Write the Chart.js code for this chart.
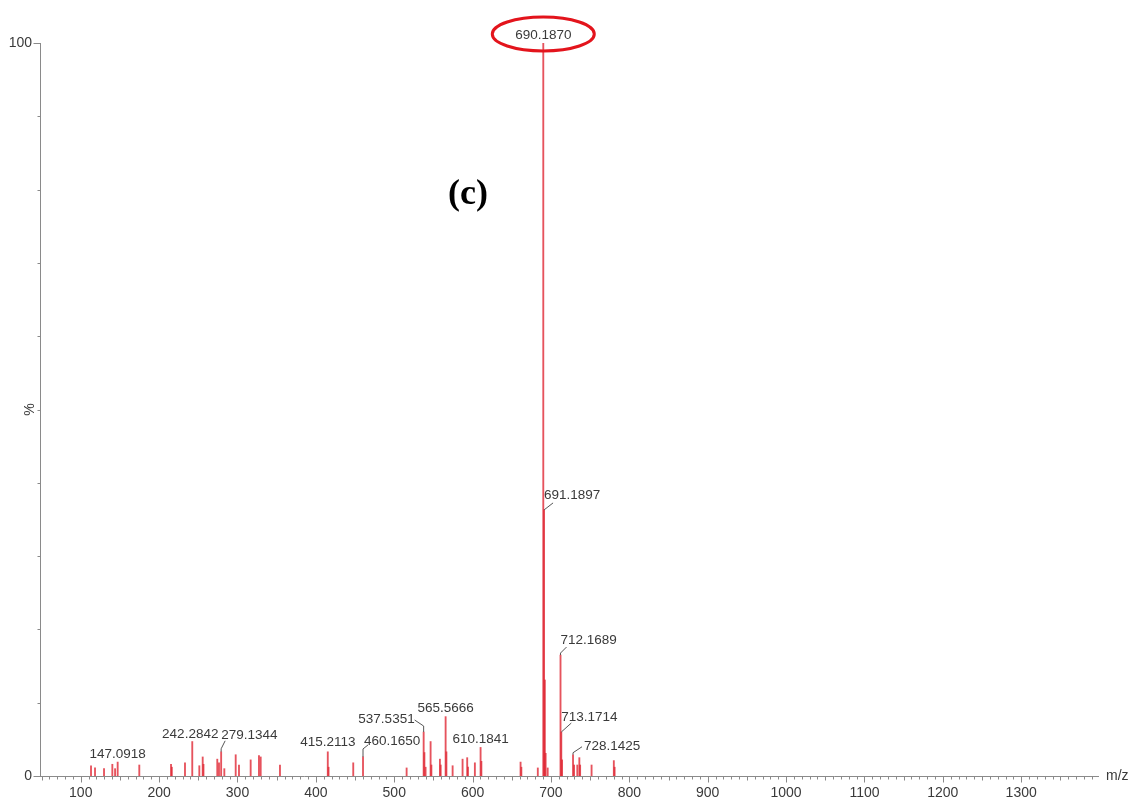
<!DOCTYPE html>
<html>
<head>
<meta charset="utf-8">
<script src="https://cdn.jsdelivr.net/npm/chart.js@4/dist/chart.umd.min.js"></script>
<style>
  html, body { margin: 0; padding: 0; background: #fff; }
  #wrap { width: 1132px; height: 801px; position: relative; }
</style>
</head>
<body>
<div id="wrap"><canvas id="espectro"></canvas></div>
<script>
// Dados do espectro (m/z, intensidade relativa %)
const mzValues = [
  113.1, 118.2, 129.7, 140.3, 143.8, 147.0918, 174.7, 215.2, 216.2, 233.0,
  242.2842, 251.3, 255.6, 256.6, 274.2, 276.4, 279.1344, 283.2, 297.7, 301.9,
  316.8, 327.4, 329.6, 354.2, 415.2113, 416.2, 447.7, 460.1650, 515.8, 537.5351,
  538.5, 540.0, 546.4, 547.4, 558.3, 559.3, 565.5666, 566.57, 574.5, 587.2,
  593.1, 594.1, 602.9, 610.1841, 611.19, 661.2, 662.2, 683.2, 690.1870, 691.1897,
  692.19, 693.19, 695.8, 712.1689, 713.1714, 714.17, 728.1425, 729.5, 733.6, 736.2,
  737.2, 751.8, 780.2, 781.2
];
const intensities = [
  1.4, 1.1, 1.0, 1.6, 1.0, 1.9, 1.5, 1.6, 1.2, 1.8,
  4.7, 1.4, 2.6, 1.6, 2.3, 1.8, 3.3, 1.0, 2.9, 1.5,
  2.2, 2.8, 2.6, 1.5, 3.3, 1.2, 1.8, 2.6, 1.1, 6.0,
  3.2, 1.2, 4.7, 1.5, 2.3, 1.5, 8.1, 3.3, 1.4, 2.3,
  2.5, 1.2, 1.8, 3.9, 2.0, 1.9, 1.2, 1.1, 100, 36.3,
  13.1, 3.1, 1.1, 16.5, 6.0, 2.2, 2.9, 1.5, 1.5, 2.5,
  1.5, 1.5, 2.1, 1.2
];
const peakLabels = [690.1870, 691.1897, 712.1689, 713.1714, 728.1425, 610.1841,
  565.5666, 537.5351, 460.1650, 415.2113, 279.1344, 242.2842, 147.0918];
const xTicks = [100, 200, 300, 400, 500, 600, 700, 800, 900, 1000, 1100, 1200, 1300];
const yTicks = [0, 100];

// posição dos rótulos relativa ao topo do pico (só estilo)
const placement = {
  '690.1870': { dx: 0, dy: -8, align: 'center', circle: true },
  '691.1897': { dx: 0, dy: -15, align: 'left', leader: [[0, 0], [9, -7]] },
  '712.1689': { dx: 0, dy: -15, align: 'left', leader: [[0, 0], [0, -2], [6, -8]] },
  '713.1714': { dx: 0, dy: -15, align: 'left', leader: [[0, 0], [10, -9]] },
  '728.1425': { dx: 11, dy: -8, align: 'left', leader: [[0, 0], [0, -2], [9, -8]] },
  '610.1841': { dx: 0, dy: -8, align: 'center' },
  '565.5666': { dx: 0, dy: -8, align: 'center' },
  '537.5351': { dx: -9, dy: -13, align: 'right', leader: [[0, 0], [0, -6], [-9, -12]] },
  '460.1650': { dx: 1, dy: -16, align: 'left', leader: [[0, 0], [0, -8], [5, -12]] },
  '415.2113': { dx: 0, dy: -10, align: 'center' },
  '279.1344': { dx: 0, dy: -17, align: 'left', leader: [[0, 0], [0, -3], [4, -11]] },
  '242.2842': { dx: -2, dy: -7, align: 'center' },
  '147.0918': { dx: 0, dy: -8, align: 'center' }
};

const fonteTexto = '"Liberation Sans", Arial, sans-serif';

// Rótulos dos picos, marcas dos eixos e textos extra
const pluginEspectro = {
  id: 'espectro',
  afterDraw(chart) {
    const { ctx, scales: { x, y }, chartArea } = chart;
    ctx.save();

    // marcas do eixo x
    ctx.strokeStyle = '#8a8a8a';
    ctx.lineWidth = 1;
    const y0 = Math.round(chartArea.bottom) + 0.5;
    for (let v = 50; v <= 1390; v += 10) {
      const px = Math.round(x.getPixelForValue(v)) + 0.5;
      const len = v % 100 === 0 ? 6 : (v % 50 === 0 ? 4 : 3);
      ctx.beginPath();
      ctx.moveTo(px, y0);
      ctx.lineTo(px, y0 + len);
      ctx.stroke();
    }
    // marcas do eixo y
    const x0 = Math.round(chartArea.left) + 0.5;
    for (let v = 0; v <= 100; v += 10) {
      const py = Math.round(y.getPixelForValue(v)) + 0.5;
      const len = (v === 0 || v === 100) ? 7 : 3;
      ctx.beginPath();
      ctx.moveTo(x0, py);
      ctx.lineTo(x0 - len, py);
      ctx.stroke();
    }

    // rótulos dos picos
    ctx.font = '13.5px ' + fonteTexto;
    ctx.textBaseline = 'middle';
    peakLabels.forEach(m => {
      const i = mzValues.indexOf(m);
      const px = x.getPixelForValue(m);
      const py = y.getPixelForValue(intensities[i]);
      const p = placement[m.toFixed(4)];
      if (p.leader) {
        ctx.strokeStyle = '#555';
        ctx.lineWidth = 1;
        ctx.beginPath();
        p.leader.forEach((pt, k) => {
          if (k === 0) ctx.moveTo(px + pt[0], py + pt[1]);
          else ctx.lineTo(px + pt[0], py + pt[1]);
        });
        ctx.stroke();
      }
      ctx.fillStyle = '#3a3a3a';
      ctx.textAlign = p.align;
      ctx.fillText(m.toFixed(4), px + p.dx, py + p.dy);
      if (p.circle) {
        ctx.strokeStyle = '#e3141c';
        ctx.lineWidth = 3;
        ctx.beginPath();
        ctx.ellipse(px, py + p.dy - 1, 51, 17, 0, 0, Math.PI * 2);
        ctx.stroke();
      }
    });

    // títulos dos eixos
    ctx.fillStyle = '#3a3a3a';
    ctx.font = '14px ' + fonteTexto;
    ctx.textAlign = 'left';
    ctx.fillText('m/z', chartArea.right + 8, chartArea.bottom);
    ctx.save();
    ctx.translate(30, y.getPixelForValue(50));
    ctx.rotate(-Math.PI / 2);
    ctx.textAlign = 'center';
    ctx.fillText('%', 0, 0);
    ctx.restore();

    // letra do painel
    ctx.fillStyle = '#000';
    ctx.font = 'bold 36px "Liberation Serif", "Times New Roman", serif';
    ctx.textAlign = 'center';
    ctx.fillText('(c)', 468, 195);

    ctx.restore();
  }
};

const ctx = document.getElementById('espectro').getContext('2d');
const grafico = new Chart(ctx, {
  type: 'bar',
  data: {
    datasets: [{
      label: 'ESI-MS',
      data: mzValues.map((m, i) => ({ x: m, y: intensities[i] })),
      backgroundColor: 'rgba(224, 40, 52, 0.8)',
      borderWidth: 0,
      barThickness: 1.2
    }]
  },
  options: {
    responsive: true,
    maintainAspectRatio: false,
    animation: false,
    layout: { padding: { top: 43, right: 34, left: 0, bottom: 0 } },
    plugins: { legend: { display: false }, tooltip: { enabled: false } },
    scales: {
      x: {
        type: 'linear',
        offset: false,
        min: 48,
        max: 1398,
        afterFit: s => { s.height = 25; },
        afterBuildTicks: s => { s.ticks = xTicks.map(v => ({ value: v })); },
        grid: { display: false, drawTicks: false },
        border: { display: true, color: '#8a8a8a', width: 1 },
        ticks: {
          autoSkip: false,
          maxRotation: 0,
          padding: 9,
          color: '#3a3a3a',
          font: { family: fonteTexto, size: 14 },
          callback: v => String(v)
        }
      },
      y: {
        min: 0,
        max: 100,
        afterFit: s => { s.width = 40; },
        afterBuildTicks: s => { s.ticks = yTicks.map(v => ({ value: v })); },
        grid: { display: false, drawTicks: false },
        border: { display: true, color: '#8a8a8a', width: 1 },
        ticks: {
          padding: 8,
          color: '#3a3a3a',
          font: { family: fonteTexto, size: 14 },
          callback: v => String(v)
        }
      }
    }
  },
  plugins: [pluginEspectro]
});
</script>
</body>
</html>
